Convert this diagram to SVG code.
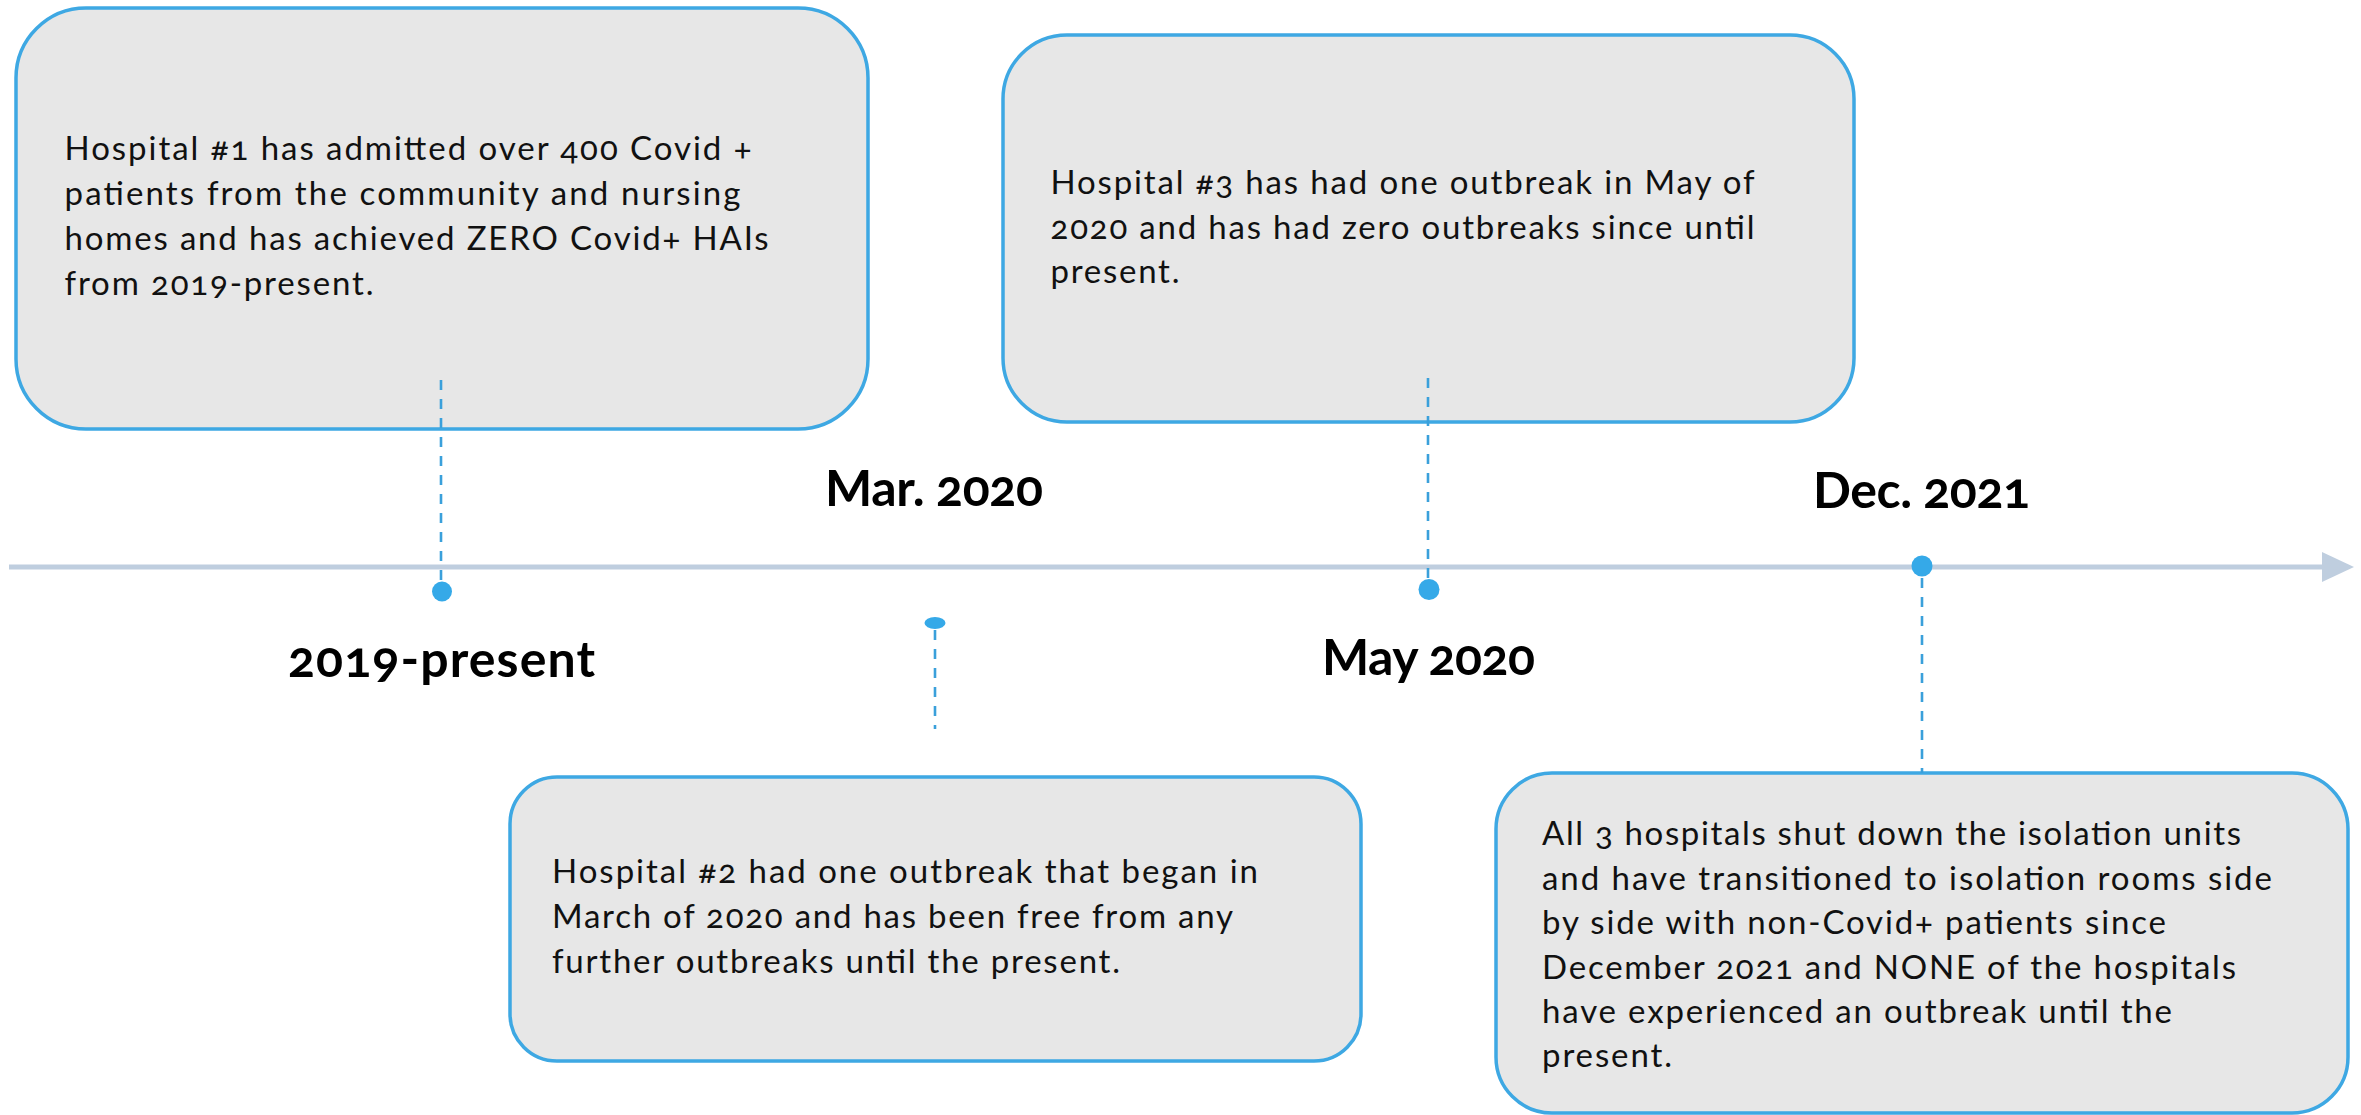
<svg xmlns="http://www.w3.org/2000/svg" width="2361" height="1115" viewBox="0 0 2361 1115">
  <style>
    .box { fill: #E7E7E7; stroke: #3EA8E3; stroke-width: 3.5; }
    .body { font-family: Lato, "Open Sans", "Liberation Sans", sans-serif; font-size: 33px; fill: #111111; font-variant-numeric: oldstyle-nums; }
    .label { font-family: Lato, "Open Sans", "Liberation Sans", sans-serif; font-size: 50px; font-weight: 700; fill: #000000; font-variant-numeric: oldstyle-nums; }
    .axis { stroke: #BFCEDF; stroke-width: 5; stroke-linecap: butt; }
    .lead { stroke: #3AA0DB; stroke-width: 2.6; stroke-dasharray: 10 9; fill: none; }
    .dot { fill: #35A9E8; }
  </style>

  <!-- timeline axis with arrowhead -->
  <g id="axis">
    <line class="axis" x1="9" y1="567" x2="2324" y2="567"/>
    <polygon points="2322,552 2354,567 2322,582" fill="#BFCEDF"/>
  </g>

  <!-- event cards -->
  <g id="card-hospital-1">
    <rect class="box" x="16" y="8" width="852" height="421" rx="70" ry="70"/>
    <text class="body" x="64.5" y="160" textLength="687">Hospital #1 has admitted over 400 Covid +</text>
    <text class="body" x="64.5" y="205" textLength="676">patients from the community and nursing</text>
    <text class="body" x="64.5" y="250" textLength="704">homes and has achieved ZERO Covid+ HAIs</text>
    <text class="body" x="64.5" y="295" textLength="309">from 2019-present.</text>
  </g>

  <g id="card-hospital-3">
    <rect class="box" x="1003" y="35" width="851" height="387" rx="64" ry="64"/>
    <text class="body" x="1050.5" y="194" textLength="704">Hospital #3 has had one outbreak in May of</text>
    <text class="body" x="1050.5" y="239" textLength="704">2020 and has had zero outbreaks since until</text>
    <text class="body" x="1050.5" y="283" textLength="129">present.</text>
  </g>

  <g id="card-hospital-2">
    <rect class="box" x="510" y="777" width="851" height="284" rx="47" ry="47"/>
    <text class="body" x="552" y="883" textLength="706">Hospital #2 had one outbreak that began in</text>
    <text class="body" x="552" y="928" textLength="681">March of 2020 and has been free from any</text>
    <text class="body" x="552" y="973" textLength="568">further outbreaks until the present.</text>
  </g>

  <g id="card-all-hospitals">
    <rect class="box" x="1496" y="773" width="852" height="340" rx="56" ry="56"/>
    <text class="body" x="1542" y="845" textLength="699">All 3 hospitals shut down the isolation units</text>
    <text class="body" x="1542" y="889.5" textLength="730">and have transitioned to isolation rooms side</text>
    <text class="body" x="1542" y="934" textLength="624">by side with non-Covid+ patients since</text>
    <text class="body" x="1542" y="978.5" textLength="694">December 2021 and NONE of the hospitals</text>
    <text class="body" x="1542" y="1022.5" textLength="630">have experienced an outbreak until the</text>
    <text class="body" x="1542" y="1067" textLength="130">present.</text>
  </g>

  <!-- date labels -->
  <g id="label-2019">
    <text class="label" x="288" y="677" textLength="307">2019-present</text>
  </g>
  <g id="label-mar-2020">
    <text class="label" x="825" y="506" textLength="218">Mar. 2020</text>
  </g>
  <g id="label-may-2020">
    <text class="label" x="1322" y="675" textLength="213">May 2020</text>
  </g>
  <g id="label-dec-2021">
    <text class="label" x="1813" y="508" textLength="217">Dec. 2021</text>
  </g>

  <!-- dashed leaders from cards to the timeline -->
  <g id="connectors">
    <line class="lead" x1="441" y1="380" x2="441" y2="584"/>
    <line class="lead" x1="1428" y1="378" x2="1428" y2="582"/>
    <line class="lead" x1="935" y1="630" x2="935" y2="729"/>
    <line class="lead" x1="1922" y1="578" x2="1922" y2="773"/>
  </g>

  <!-- timeline markers -->
  <g id="markers">
    <circle class="dot" cx="442" cy="591.5" r="10"/>
    <ellipse class="dot" cx="935" cy="623" rx="10.5" ry="6"/>
    <circle class="dot" cx="1429" cy="589.5" r="10.5"/>
    <circle class="dot" cx="1922" cy="566" r="10.5"/>
  </g>
</svg>
